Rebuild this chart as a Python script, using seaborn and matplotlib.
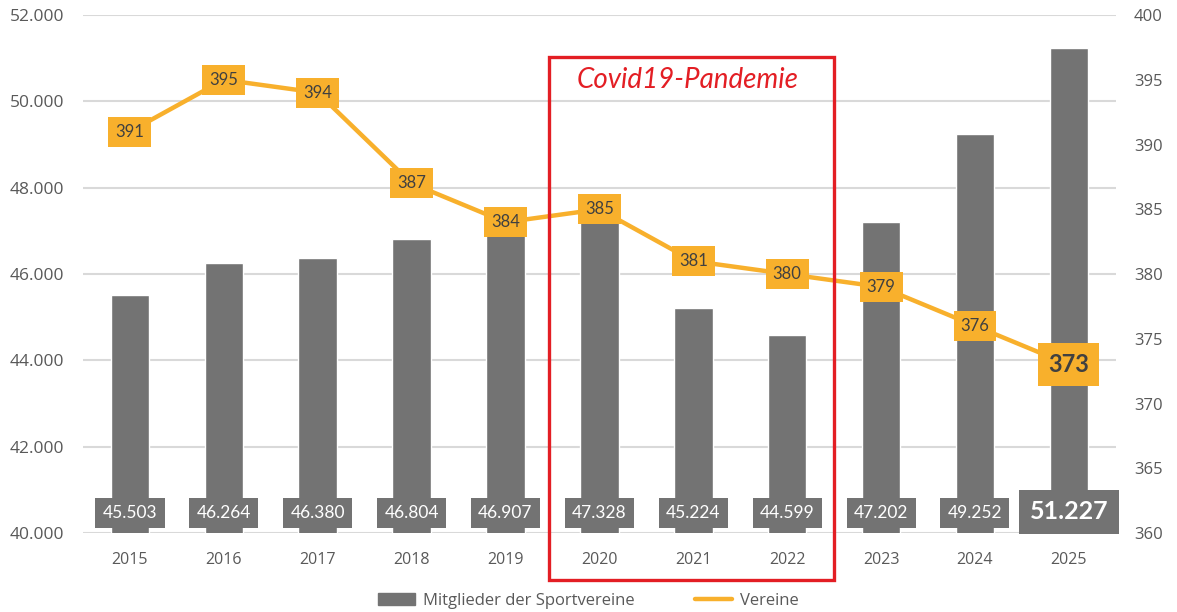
import numpy as np
import pandas as pd
import matplotlib
matplotlib.use('Agg')
import matplotlib.pyplot as plt
import matplotlib.patches as mpatches
import matplotlib.lines as mlines
import matplotlib.transforms as mtransforms
import seaborn as sns

# Data
years = ['2015', '2016', '2017', '2018', '2019', '2020', '2021', '2022', '2023', '2024', '2025']
mitglieder = [45503, 46264, 46380, 46804, 46907, 47328, 45224, 44599, 47202, 49252, 51227]
vereine = [391, 395, 394, 387, 384, 385, 381, 380, 379, 376, 373]

bar_color = '#737373'
line_color = '#F8B02C'
text_grey = '#595959'
red = '#E31E24'

sns.set_theme(style='white')
plt.rcParams['font.family'] = ['Open Sans', 'DejaVu Sans']

df = pd.DataFrame({'Jahr': years, 'Mitglieder': mitglieder, 'Vereine': vereine})

fig = plt.figure(figsize=(11.77, 6.12), dpi=100)
ax = fig.add_axes([0.0705, 0.129, 0.8775, 0.8465])

sns.barplot(data=df, x='Jahr', y='Mitglieder', color=bar_color, width=0.41,
            saturation=1, ax=ax)
ax.set_ylim(40000, 52000)
ax.set_xlim(-0.5, len(years) - 0.5)
ax.set_yticks(np.arange(40000, 52001, 2000))
ax.set_yticklabels([f'{v:,}'.replace(',', '.') for v in range(40000, 52001, 2000)])
ax.yaxis.grid(True, color='#D9D9D9', linewidth=1.5)
ax.set_axisbelow(True)
ax.set_xlabel('')
ax.set_ylabel('')
ax.tick_params(axis='y', length=0, pad=13.5, labelsize=12.5, labelcolor=text_grey)
ax.tick_params(axis='x', length=0, pad=14, labelsize=11.5, labelcolor=text_grey)
for s in ax.spines.values():
    s.set_visible(False)

# bar value labels at the base of each bar
for i, v in enumerate(mitglieder):
    last = i == len(mitglieder) - 1
    ax.annotate(f'{v:,}'.replace(',', '.'), xy=(i, 40000), xytext=(0, 14.5 if not last else 15.5),
                textcoords='offset points', ha='center', va='center',
                fontsize=18 if last else 12.5, fontweight='bold' if last else 'normal',
                color='white', family=['Lato', 'DejaVu Sans'],
                bbox=dict(boxstyle='square,pad=0.42', fc=bar_color, ec='none'), zorder=5)

ax2 = ax.twinx()
pos = np.arange(len(years))
sns.lineplot(x=pos, y=vereine, color=line_color, linewidth=3.2, ax=ax2)
ax2.set_ylim(360, 400)
ax2.set_yticks(np.arange(360, 401, 5))
ax2.tick_params(axis='y', length=0, pad=13, labelsize=12, labelcolor=text_grey)
ax2.set_xlim(-0.5, len(years) - 0.5)
ax2.set_ylabel('')
for s in ax2.spines.values():
    s.set_visible(False)

for i, v in enumerate(vereine):
    last = i == len(vereine) - 1
    ax2.text(i, v, str(v), ha='center', va='center',
             fontsize=17 if last else 12, fontweight='bold' if last else 'normal',
             color='#404040', family=['Lato', 'DejaVu Sans'],
             bbox=dict(boxstyle='square,pad=0.42', fc=line_color, ec='none'), zorder=6)

# Covid box
trans2 = mtransforms.blended_transform_factory(ax2.transData, ax2.transAxes)
ax2.add_patch(mpatches.Rectangle((4.46, -0.091), 3.04, 1.01, transform=trans2,
                                 fill=False, edgecolor=red, linewidth=2.4, clip_on=False, zorder=10))
ax2.text(5.94, 0.875, 'Covid19-Pandemie', transform=trans2,
         ha='center', va='center', fontsize=20, style='italic', color=red,
         family=['Lato', 'DejaVu Sans'])

handles = [mpatches.Patch(color=bar_color, label='Mitglieder der Sportvereine'),
           mlines.Line2D([], [], color=line_color, linewidth=3.2, label='Vereine')]
fig.legend(handles=handles, loc='center', bbox_to_anchor=(0.5, 0.018), ncol=2,
           frameon=False, fontsize=12, labelcolor=text_grey, columnspacing=3.6,
           handlelength=2.2, handletextpad=0.5)

fig.savefig('out.png', dpi=100)
